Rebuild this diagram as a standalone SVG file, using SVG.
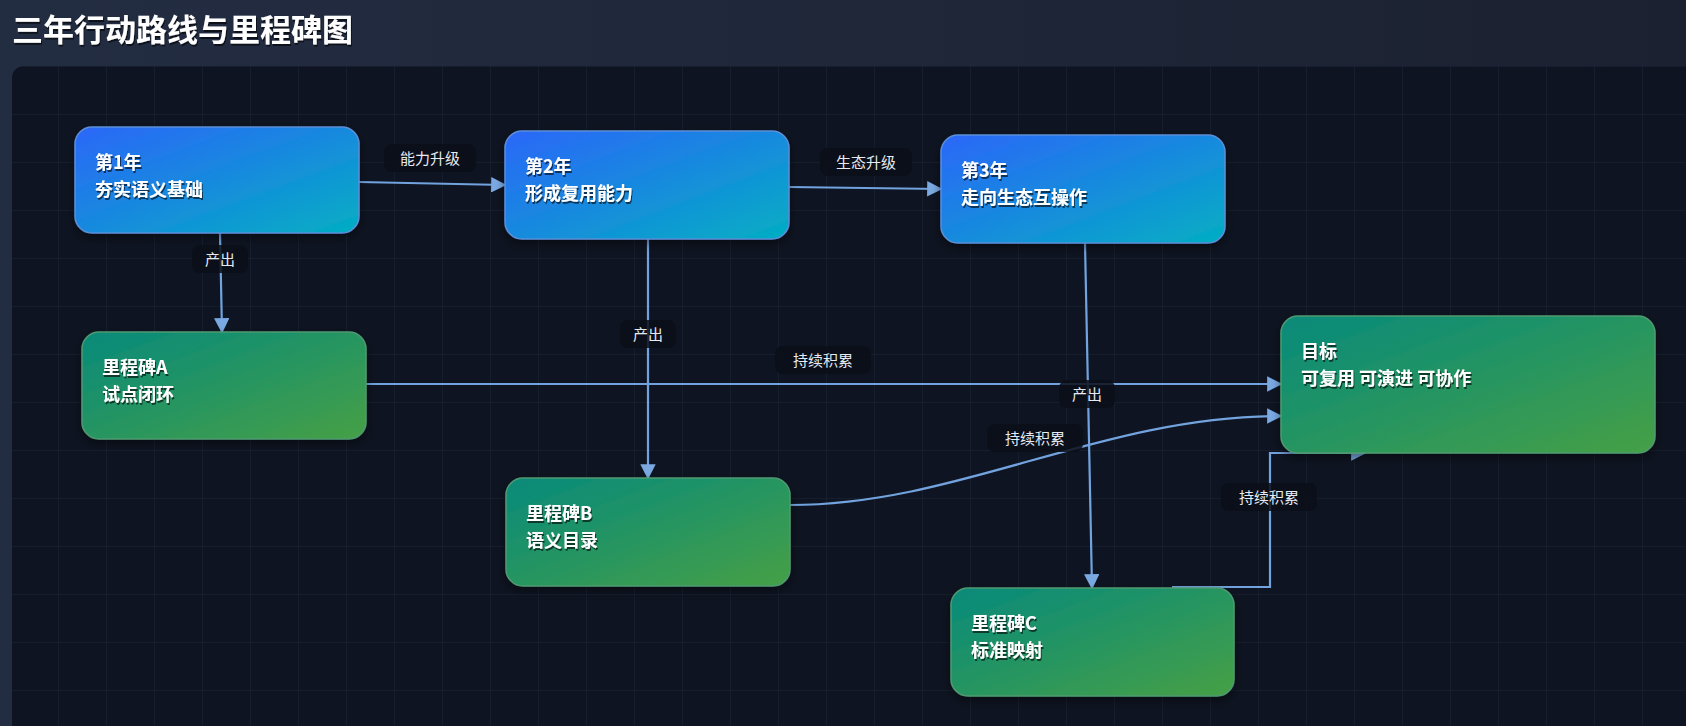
<svg xmlns="http://www.w3.org/2000/svg" width="1686" height="726" viewBox="0 0 1686 726">
<style>
.nt{font-family:"Noto Sans CJK SC","Liberation Sans",sans-serif;font-weight:700;font-size:18px;fill:#fff}
.lb{font-family:"Noto Sans CJK SC","Liberation Sans",sans-serif;font-size:15px;fill:#e6ebf3;text-anchor:middle}
.lbg{fill:#0a0e17;fill-opacity:0.85}
.e{fill:none;stroke:#72a3de;stroke-width:2.2}
.grid{stroke:#1e2738;stroke-width:1}
</style>
<defs>
<linearGradient id="hd" x1="0" y1="0" x2="1" y2="0"><stop offset="0" stop-color="#232d42"/><stop offset="1" stop-color="#1b2130"/></linearGradient>
<linearGradient id="bl" x1="0" y1="0" x2="1" y2="1"><stop offset="0" stop-color="#2b67f8"/><stop offset="1" stop-color="#03aec3"/></linearGradient>
<linearGradient id="gr" x1="0" y1="0" x2="1" y2="1"><stop offset="0" stop-color="#078a7b"/><stop offset="1" stop-color="#46a046"/></linearGradient>
<pattern id="gp" x="11" y="19" width="48" height="48" patternUnits="userSpaceOnUse"><path d="M48 0V48M0 48H48" class="grid"/></pattern>
<marker id="ar" viewBox="0 0 10 10" refX="9" refY="5" markerWidth="7" markerHeight="7" orient="auto"><path d="M0 0L10 5L0 10Z" fill="#7aa9e2"/></marker>
<filter id="sh" x="-10%" y="-10%" width="130%" height="140%"><feDropShadow dx="0" dy="4" stdDeviation="5" flood-color="#000" flood-opacity="0.45"/></filter>
<filter id="ts"><feDropShadow dx="1" dy="2" stdDeviation="0.6" flood-color="#000" flood-opacity="0.6"/></filter>
</defs>
<rect width="1686" height="726" fill="url(#hd)"/>
<text x="12" y="41" font-family="Noto Sans CJK SC,Liberation Sans,sans-serif" font-weight="700" font-size="31" fill="#fff" filter="url(#ts)">三年行动路线与里程碑图</text>
<rect x="12" y="66" width="1700" height="700" rx="12" fill="#0e1421"/>
<rect x="12" y="66" width="1700" height="700" rx="12" fill="url(#gp)"/>
<g id="connectors">
<path class="e" d="M359 182L505 185" marker-end="url(#ar)"/>
<path class="e" d="M789 187L941 189" marker-end="url(#ar)"/>
<path class="e" d="M220 233L222 332" marker-end="url(#ar)"/>
<path class="e" d="M648 239L648 478" marker-end="url(#ar)"/>
<path class="e" d="M1085 243L1092 588" marker-end="url(#ar)"/>
<path class="e" d="M366 384L1281 384" marker-end="url(#ar)"/>
<path class="e" d="M790 505C960 505 1100 416 1281 416" marker-end="url(#ar)"/>
<path class="e" d="M1172 587H1270V453H1340L1365 453" marker-end="url(#ar)"/>
<g>
<rect class="lbg" x="384" y="144" width="92" height="28" rx="8"/><text class="lb" x="430" y="164">能力升级</text>
<rect class="lbg" x="820" y="148" width="92" height="28" rx="8"/><text class="lb" x="866" y="168">生态升级</text>
<rect class="lbg" x="192" y="245" width="56" height="28" rx="8"/><text class="lb" x="220" y="265">产出</text>
<rect class="lbg" x="620" y="320" width="56" height="28" rx="8"/><text class="lb" x="648" y="340">产出</text>
<rect class="lbg" x="1059" y="380" width="56" height="28" rx="8"/><text class="lb" x="1087" y="400">产出</text>
<rect class="lbg" x="775" y="346" width="96" height="28" rx="8"/><text class="lb" x="823" y="366">持续积累</text>
<rect class="lbg" x="987" y="424" width="96" height="28" rx="8"/><text class="lb" x="1035" y="444">持续积累</text>
<rect class="lbg" x="1221" y="483" width="96" height="28" rx="8"/><text class="lb" x="1269" y="503">持续积累</text>
</g>
</g>
<g id="y1" filter="url(#sh)"><rect x="75" y="127" width="284" height="106" rx="17" fill="url(#bl)" stroke="#5b8fd8" stroke-width="1.5"/><text class="nt" filter="url(#ts)"><tspan x="95" y="169">第1年</tspan><tspan x="95" y="196">夯实语义基础</tspan></text></g>
<g id="y2" filter="url(#sh)"><rect x="505" y="131" width="284" height="108" rx="17" fill="url(#bl)" stroke="#5b8fd8" stroke-width="1.5"/><text class="nt" filter="url(#ts)"><tspan x="525" y="173">第2年</tspan><tspan x="525" y="200">形成复用能力</tspan></text></g>
<g id="y3" filter="url(#sh)"><rect x="941" y="135" width="284" height="108" rx="17" fill="url(#bl)" stroke="#5b8fd8" stroke-width="1.5"/><text class="nt" filter="url(#ts)"><tspan x="961" y="177">第3年</tspan><tspan x="961" y="204">走向生态互操作</tspan></text></g>
<g id="mA" filter="url(#sh)"><rect x="82" y="332" width="284" height="107" rx="17" fill="url(#gr)" stroke="#4f9a72" stroke-width="1.5"/><text class="nt" filter="url(#ts)"><tspan x="102" y="374">里程碑A</tspan><tspan x="102" y="401">试点闭环</tspan></text></g>
<g id="mB" filter="url(#sh)"><rect x="506" y="478" width="284" height="108" rx="17" fill="url(#gr)" stroke="#4f9a72" stroke-width="1.5"/><text class="nt" filter="url(#ts)"><tspan x="526" y="520">里程碑B</tspan><tspan x="526" y="547">语义目录</tspan></text></g>
<g id="mC" filter="url(#sh)"><rect x="951" y="588" width="283" height="108" rx="17" fill="url(#gr)" stroke="#4f9a72" stroke-width="1.5"/><text class="nt" filter="url(#ts)"><tspan x="971" y="630">里程碑C</tspan><tspan x="971" y="657">标准映射</tspan></text></g>
<g id="goal" filter="url(#sh)"><rect x="1281" y="316" width="374" height="137" rx="17" fill="url(#gr)" stroke="#4f9a72" stroke-width="1.5"/><text class="nt" filter="url(#ts)"><tspan x="1301" y="358">目标</tspan><tspan x="1301" y="385">可复用 可演进 可协作</tspan></text></g>
</svg>
